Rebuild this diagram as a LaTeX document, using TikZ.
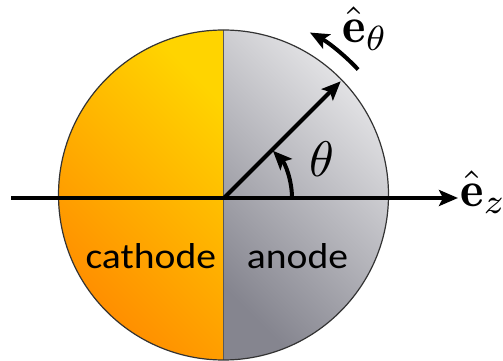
\documentclass[tikz,border=0pt]{standalone}
\usepackage{fontspec}
\newfontfamily\labelfont{Carlito}
\usetikzlibrary{arrows.meta}
\definecolor{cathA}{HTML}{FF8A00}
\definecolor{cathB}{HTML}{FFD400}
\definecolor{anoA}{HTML}{85858F}
\definecolor{anoB}{HTML}{E8E8EA}
\newcommand{\bigmath}[1]{\scalebox{5}{$#1$}}
\begin{document}
\begin{tikzpicture}[x=1pt,y=1pt,
 thickarrow/.style={line width=4pt, -{Stealth[length=19pt,width=16pt,inset=4pt]}},
 lbl/.style={inner sep=0pt},
 region/.style={font=\labelfont\fontsize{36}{36}\selectfont, inner sep=0pt}]
\useasboundingbox (0,0) rectangle (503,361);
\coordinate (C) at (223.5,166);
\coordinate (O) at (224,163);
\shade[top color=cathB, bottom color=cathA, shading angle=-45] (C) ++(90:165) arc[start angle=90,end angle=270,radius=165] -- cycle;
\shade[top color=anoB, bottom color=anoA, shading angle=-45] (C) ++(-90:165) arc[start angle=-90,end angle=90,radius=165] -- cycle;
\path (C) ++(90:165) coordinate (top) (C) ++(-90:165) coordinate (bot);
\draw[gray!70!black, line width=1pt] (top) -- (bot);
\draw[black!80, line width=1.2pt] (C) circle[radius=165];
\coordinate (axL) at (11,163);
\coordinate (axR) at (458,163);
\draw[thickarrow] (axL) -- (axR);
\path (O) ++(45:165) coordinate (R);
\draw[thickarrow] (O) -- (R);
\path (O) ++(0:68) coordinate (A0);
\draw[thickarrow] (A0) arc[start angle=0,end angle=44,radius=68];
\path (C) ++(43:184) coordinate (E0);
\draw[thickarrow] (E0) arc[start angle=43,end angle=62,radius=184];
\node[lbl, anchor=base west] (ez) at (460,154.5) {\bigmath{\hat{\mathbf e}_z}};
\node[lbl, anchor=base west] (et) at (342,318) {\bigmath{\hat{\mathbf e}_\theta}};
\node[lbl, anchor=base] (th) at (322,184) {\bigmath{\theta}};
\node[region, anchor=base] (cat) at (150.8,92.7) {\scalebox{1.1}[1]{cathode}};
\node[region, anchor=base] (an) at (297.5,92.7) {\scalebox{1.1}[1]{anode}};
\end{tikzpicture}
\end{document}
